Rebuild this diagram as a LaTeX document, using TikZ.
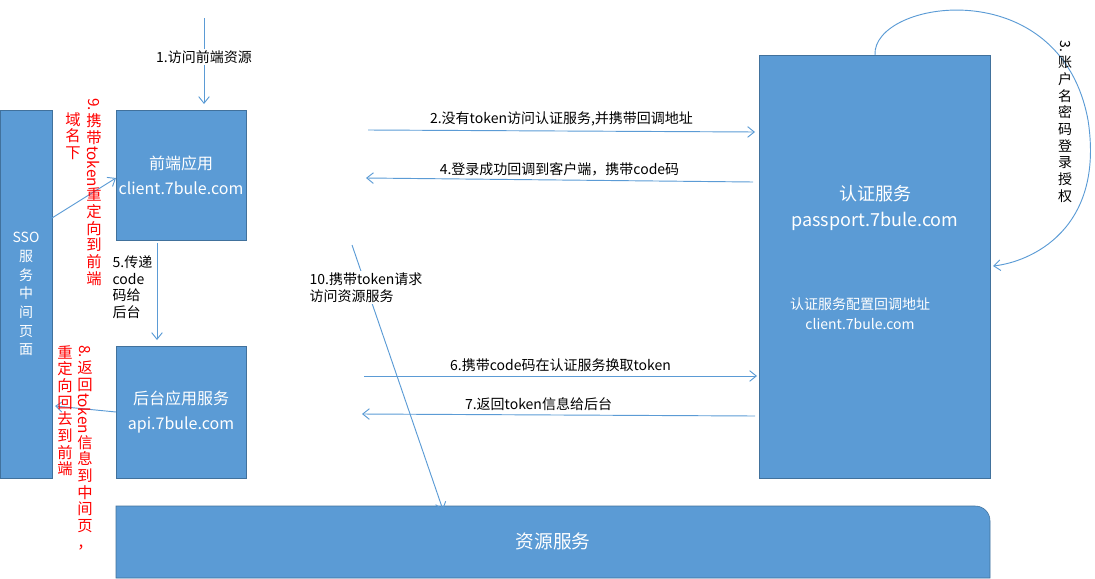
\documentclass[tikz,border=0pt]{standalone}
\usepackage{fontspec}
\setmainfont{Noto Sans CJK SC}
\usetikzlibrary{arrows.meta}
\definecolor{bfill}{HTML}{5B9BD5}
\definecolor{bdraw}{HTML}{41719C}
\definecolor{lcol}{HTML}{5B9BD5}
\newcommand{\rl}[1]{\rotatebox[origin=c]{-90}{#1}}
\begin{document}
\begin{tikzpicture}[x=0.75pt,y=-0.75pt,
  box/.style={draw=bdraw,fill=bfill,text=white,align=center,inner sep=0},
  conn/.style={draw=lcol,line width=0.7pt,-{Straight Barb[length=5pt,width=8pt]}},
  lab/.style={font=\fontsize{10.5}{12.5}\selectfont,align=left,inner sep=1pt},
  vred/.style={text=red,font=\fontsize{11.5}{12.5}\selectfont,align=center,inner sep=0,anchor=north}]
\useasboundingbox (0,0) rectangle (1095,578);
\node[box,minimum width=52*0.75pt,minimum height=368*0.75pt,font=\fontsize{10.5}{14}\selectfont] (sso) at (26,294) {SSO\\服\\务\\中\\间\\页\\面};
\node[box,minimum width=130*0.75pt,minimum height=130*0.75pt,font=\fontsize{12}{19}\selectfont] (fe) at (181,175) {前端应用\\client.7bule.com};
\node[box,minimum width=130*0.75pt,minimum height=132*0.75pt,font=\fontsize{12}{19}\selectfont] (be) at (181,412) {后台应用服务\\api.7bule.com};
\node[box,minimum width=231*0.75pt,minimum height=423*0.75pt] (auth) at (874.5,266.5) {};
\node[text=white,font=\fontsize{13.5}{20}\selectfont,align=center] (authT) at (875,208) {认证服务\\passport.7bule.com};
\node[text=white,font=\fontsize{10.5}{15}\selectfont,align=center] (authS) at (860,314) {认证服务配置回调地址\\client.7bule.com};
\draw[draw=bdraw,fill=bfill] (116,578) -- (116,506) [rounded corners=11pt] -- (990,506) [sharp corners] -- (990,578) -- cycle;
\node[text=white,font=\fontsize{14}{20}\selectfont] (res) at (553,541) {资源服务};
\coordinate (s1) at (204,18);
\coordinate (rtop) at (443,510);
\draw[conn] (s1) -- (204,104) node[lab,pos=0.45,fill=white] {1.访问前端资源};
\draw[conn] (368,130) -- (755,132) node[lab,midway,above=2pt] {2.没有token访问认证服务,并携带回调地址};
\draw[conn] (753,182) -- (366,178) node[lab,midway,above=2pt] {4.登录成功回调到客户端，携带code码};
\draw[conn] (875,55) .. controls (872,0) and (1060,-30) .. (1088,120) .. controls (1105,230) and (1030,262) .. (993,266);
\draw[conn] (157,243) -- (157,340);
\node[lab,anchor=north west,fill=white] (l5) at (111,254) {5.传递\\code\\码给\\后台};
\draw[conn] (352,245) -- (rtop);
\node[lab,anchor=north west,fill=white] (l10) at (308,271) {10.携带token请求\\访问资源服务};
\draw[conn] (364,376) -- (757,376) node[lab,midway,above=2pt] {6.携带code码在认证服务换取token};
\draw[conn] (755,416) -- (362,414) node[lab,midway,above=2pt,xshift=-15pt] {7.返回token信息给后台};
\draw[conn] (52,218) -- (116,178);
\draw[conn] (116,412) -- (55,406);
\node[font=\fontsize{10.5}{12.5}\selectfont,align=center,inner sep=0,anchor=north] (l3) at (1065,40) {\rl{3.}\\账\\户\\名\\密\\码\\登\\录\\授\\权};
\node[vred] (l9a) at (94,98) {\rl{9.}\\携\\带\\\rl{token}\\重\\定\\向\\到\\前\\端};
\node[vred] (l9b) at (73,112) {域\\名\\下};
\node[vred] (l8a) at (85,345) {\rl{8.}\\返\\回\\\rl{token}\\信\\息\\到\\中\\间\\页\\，};
\node[vred] (l8b) at (65,345) {重\\定\\向\\回\\去\\到\\前\\端};
\end{tikzpicture}
\end{document}
